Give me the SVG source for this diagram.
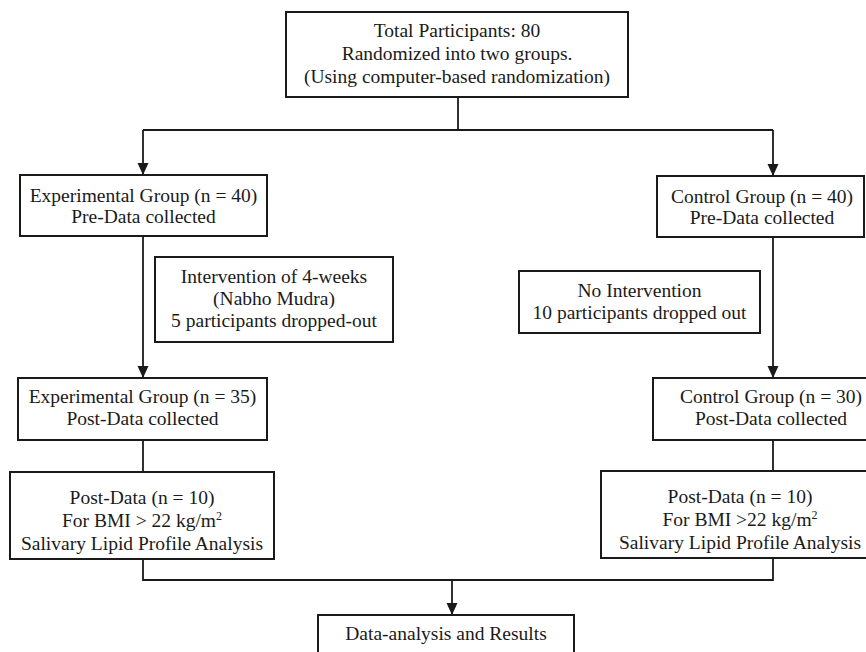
<svg xmlns="http://www.w3.org/2000/svg" width="866" height="652" viewBox="0 0 866 652">
<style>
.box{fill:#fff;stroke:#1a1a1a;stroke-width:2}
.t{font-family:"Liberation Serif","Times New Roman",serif;font-size:19.5px;fill:#1a1a1a;text-anchor:middle}
.c{fill:none;stroke:#1a1a1a;stroke-width:1.8}
</style>
<defs>
<marker id="ah" markerUnits="userSpaceOnUse" markerWidth="12" markerHeight="14" refX="6" refY="13" orient="auto-start-reverse" viewBox="0 0 12 14">
<path d="M0,0 L12,0 L6,13 Z" fill="#1a1a1a" transform="rotate(0)"/>
</marker>
<marker id="arr" markerUnits="userSpaceOnUse" markerWidth="12" markerHeight="12" refX="12" refY="6" orient="auto" viewBox="0 0 12 12">
<path d="M0,0.5 L12,6 L0,11.5 Z" fill="#1a1a1a"/>
</marker>
</defs>
<rect width="866" height="652" fill="#fff"/>
<g id="connectors">
<path class="c" d="M458,97 V130"/>
<path class="c" d="M143,130 H773"/>
<path class="c" d="M143,130 V175" marker-end="url(#arr)"/>
<path class="c" d="M773,130 V176" marker-end="url(#arr)"/>
<path class="c" d="M143,236 V378" marker-end="url(#arr)"/>
<path class="c" d="M773,237 V378" marker-end="url(#arr)"/>
<path class="c" d="M143,440 V472"/>
<path class="c" d="M773,440 V471"/>
<path class="c" d="M143,559 V580 H773 V558"/>
<path class="c" d="M452,580 V615" marker-end="url(#arr)"/>
</g>
<g id="top">
<rect class="box" x="286" y="12" width="342" height="85"/>
<text class="t" x="457" y="37">Total Participants: 80</text>
<text class="t" x="457" y="60">Randomized into two groups.</text>
<text class="t" x="457" y="83">(Using computer-based randomization)</text>
</g>
<g id="exp40">
<rect class="box" x="20" y="175" width="247" height="61"/>
<text class="t" x="143.5" y="202">Experimental Group (n = 40)</text>
<text class="t" x="143.5" y="223">Pre-Data collected</text>
</g>
<g id="ctl40">
<rect class="box" x="657" y="176" width="207" height="61"/>
<text class="t" x="762" y="203">Control Group (n = 40)</text>
<text class="t" x="762" y="224">Pre-Data collected</text>
</g>
<g id="intervention">
<rect class="box" x="155" y="257" width="238" height="85"/>
<text class="t" x="274" y="283">Intervention of 4-weeks</text>
<text class="t" x="274" y="305">(Nabho Mudra)</text>
<text class="t" x="274" y="327">5 participants dropped-out</text>
</g>
<g id="nointervention">
<rect class="box" x="519" y="271" width="241" height="62"/>
<text class="t" x="639.5" y="297">No Intervention</text>
<text class="t" x="639.5" y="319">10 participants dropped out</text>
</g>
<g id="exp35">
<rect class="box" x="18" y="378" width="249" height="62"/>
<text class="t" x="142.5" y="403">Experimental Group (n = 35)</text>
<text class="t" x="142.5" y="425">Post-Data collected</text>
</g>
<g id="ctl30">
<rect class="box" x="653" y="378" width="236" height="62"/>
<text class="t" x="771" y="403">Control Group (n = 30)</text>
<text class="t" x="771" y="425">Post-Data collected</text>
</g>
<g id="expPost">
<rect class="box" x="10" y="472" width="264" height="87"/>
<text class="t" x="142" y="504">Post-Data (n = 10)</text>
<text class="t" x="142" y="527">For BMI &gt; 22 kg/m<tspan font-size="12" dy="-7">2</tspan></text>
<text class="t" x="142" y="550">Salivary Lipid Profile Analysis</text>
</g>
<g id="ctlPost">
<rect class="box" x="601" y="471" width="279" height="87"/>
<text class="t" x="740" y="503">Post-Data (n = 10)</text>
<text class="t" x="740" y="526">For BMI &gt;22 kg/m<tspan font-size="12" dy="-7">2</tspan></text>
<text class="t" x="740" y="549">Salivary Lipid Profile Analysis</text>
</g>
<g id="results">
<rect class="box" x="318" y="615" width="256" height="60"/>
<text class="t" x="446" y="640">Data-analysis and Results</text>
</g>
</svg>
